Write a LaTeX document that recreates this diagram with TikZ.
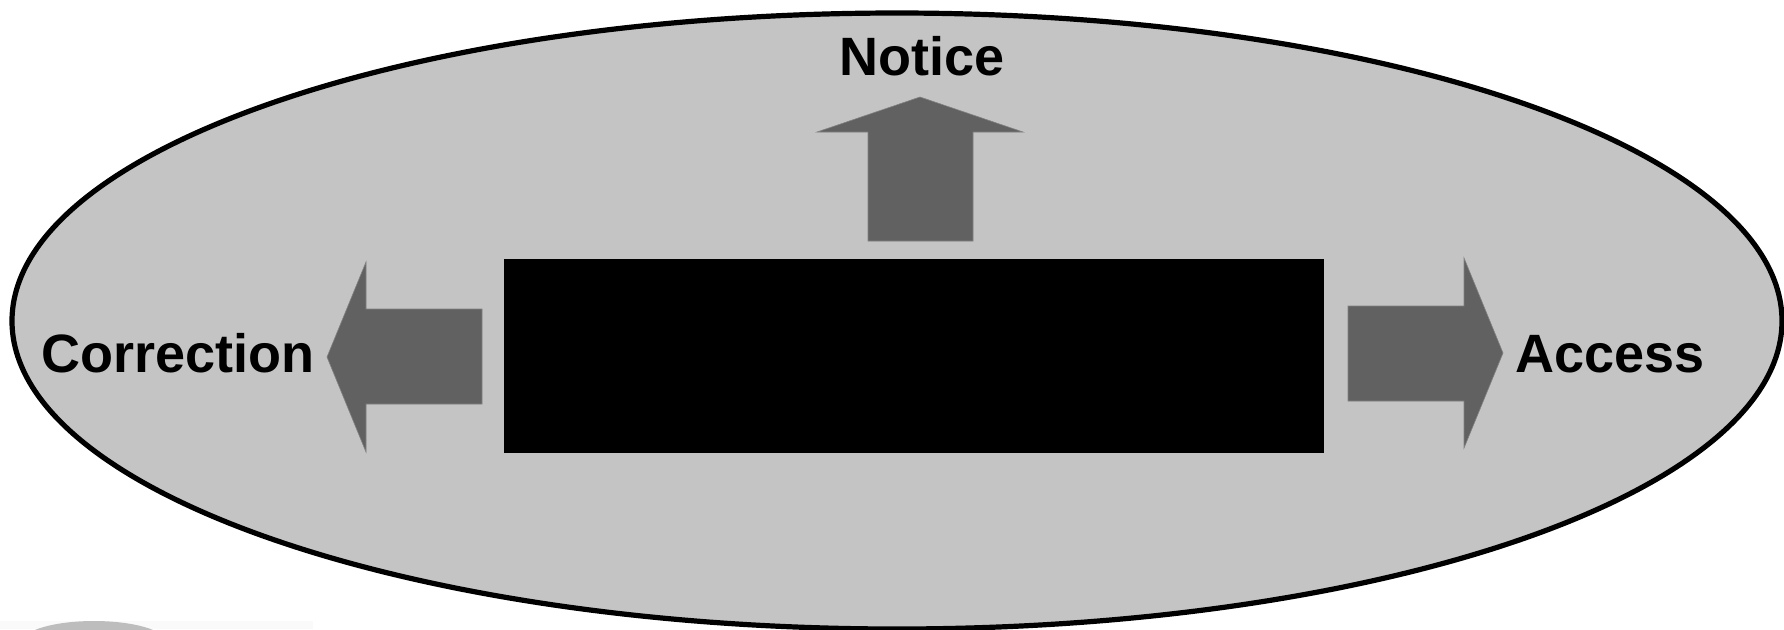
\documentclass[tikz,border=0pt]{standalone}
\usepackage{fontspec}
\setmainfont{Liberation Sans}
\definecolor{ovalgray}{HTML}{C4C4C4}
\definecolor{arrgray}{HTML}{616161}
\definecolor{shadegray}{HTML}{BDBDBD}
\begin{document}
\begin{tikzpicture}[x=.5pt,y=-.5pt,line join=miter,font=\fontsize{27}{31}\selectfont\bfseries,
	arr/.style={fill=arrgray,draw=arrgray!80!white,line width=.3pt},
	lbl/.style={inner sep=0pt,anchor=base}]
			\useasboundingbox (0,0) rectangle (1784,629);
			\clip (0,0) rectangle (1784,629);
			\fill[black!2] (0,621) rectangle (313,629);
			\fill[shadegray] (94,642) ellipse (72 and 21);
			\draw[line width=2.6pt,fill=ovalgray] (897,321) ellipse (885 and 308);
			\node[fill=black,minimum width=410pt,minimum height=97pt,inner sep=0pt,anchor=north west] (box) at (504,259) {};
			% arrows
			\filldraw[arr] (920,97) -- (1023,132) -- (973,132) -- (973,241) -- (868,241) -- (868,132) -- (817,132) -- cycle;
			\filldraw[arr] (327,357) -- (366,262) -- (366,309) -- (482,309) -- (482,404) -- (366,404) -- (366,452) -- cycle;
			\filldraw[arr] (1503,353) -- (1464,258) -- (1464,306) -- (1348,306) -- (1348,401) -- (1464,401) -- (1464,448) -- cycle;
			\node[lbl] (notice) at (922,75) {Notice};
			\node[lbl] (corr) at (178,372) {Correction};
			\node[lbl] (access) at (1610,372) {Access};
	\end{tikzpicture}
\end{document}
